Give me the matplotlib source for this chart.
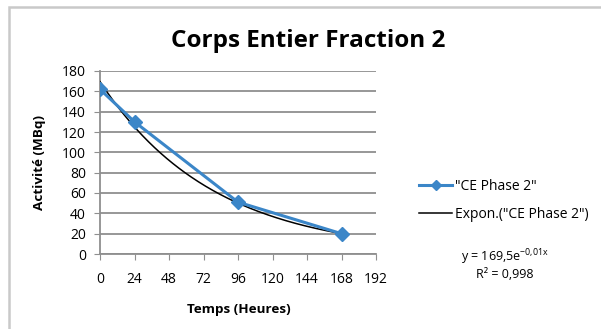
import numpy as np
import matplotlib

matplotlib.use("Agg")

import matplotlib.pyplot as plt
from matplotlib.lines import Line2D
from matplotlib.patches import Rectangle

plt.rcParams["font.family"] = ["Open Sans", "DejaVu Sans"]
plt.rcParams["mathtext.fontset"] = "custom"
plt.rcParams["mathtext.rm"] = "Open Sans"

# Mesures de la phase 2
temps_h = [0, 24, 96, 168]
activite_mbq = [162, 130, 51, 20]

# Courbe de tendance exponentielle y = a * exp(k * x)
trend_a = 169.5
trend_k = -0.0127

x_ticks = [0, 24, 48, 72, 96, 120, 144, 168, 192]
y_ticks = [0, 20, 40, 60, 80, 100, 120, 140, 160, 180]

blue = "#3b86c8"
grid_gray = "#8f8f8f"

fig = plt.figure(figsize=(6.01, 3.29), dpi=100)
fig.patch.set_facecolor("white")

# Cadre gris du graphique
fig.patches.append(Rectangle((9 / 601, -0.1), 1.2, 1 - 7 / 329 + 0.1,
                             transform=fig.transFigure, fill=False,
                             edgecolor="#c9c9c9", linewidth=1.8))

ax = fig.add_axes([100 / 601, 1 - 254 / 329, 276 / 601, 183 / 329])

# Tendance
xs = np.linspace(0, temps_h[-1], 200)
ax.plot(xs, trend_a * np.exp(trend_k * xs), color="black", linewidth=1.1, zorder=3)

# Série mesurée
ax.plot(temps_h, activite_mbq, color=blue, linewidth=2.2, marker="D",
        markersize=7, zorder=4)

ax.set_xlim(0, 192)
ax.set_ylim(0, 180)
ax.set_xticks(x_ticks)
ax.set_yticks(y_ticks)
ax.tick_params(axis="both", labelsize=10, color=grid_gray, length=4)
ax.tick_params(axis="x", pad=9)
ax.tick_params(axis="y", pad=6)

ax.grid(axis="y", color=grid_gray, linewidth=1.3)
ax.set_axisbelow(True)
for side in ["top", "right"]:
    ax.spines[side].set_visible(False)
for side in ["left", "bottom"]:
    ax.spines[side].set_color(grid_gray)
    ax.spines[side].set_linewidth(1.3)

fig.text(308 / 601, 1 - 41 / 329, "Corps Entier Fraction 2", ha="center",
         va="center", fontsize=17.5, fontweight="bold")
fig.text(239 / 601, 1 - 309 / 329, "Temps (Heures)", ha="center", va="center",
         fontsize=9.7, fontweight="bold")
fig.text(40 / 601, 1 - 162 / 329, "Activité (MBq)", ha="center", va="center",
         rotation=90, fontsize=9.7, fontweight="bold")

handles = [
    Line2D([], [], color=blue, linewidth=2.2, marker="D", markersize=5),
    Line2D([], [], color="black", linewidth=1.1),
]
labels = ['"CE Phase 2"', 'Expon.("CE Phase 2")']
fig.legend(handles, labels, loc="upper left",
           bbox_to_anchor=(412 / 601, 1 - 172 / 329), frameon=False,
           fontsize=10, handlelength=2.4, handletextpad=0.2, labelspacing=0.95,
           borderpad=0)

fig.text(505 / 601, 1 - 257 / 329, r"y = 169,5e$^{\mathrm{-0{,}01x}}$",
         ha="center", va="center", fontsize=9)
fig.text(505 / 601, 1 - 274 / 329, "R² = 0,998", ha="center", va="center",
         fontsize=9)

fig.savefig("out.png", dpi=100)
